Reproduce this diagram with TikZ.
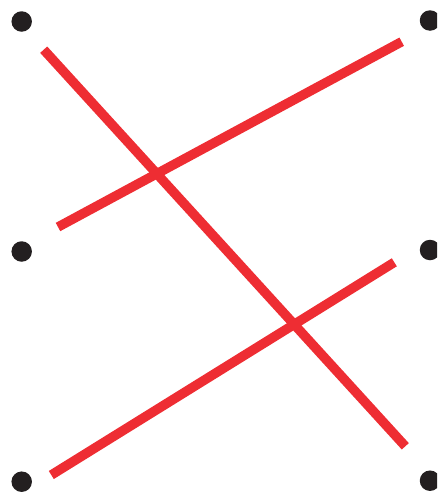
\documentclass[tikz,border=0pt]{standalone}
\definecolor{linered}{HTML}{EE2D33}
\definecolor{dotblack}{HTML}{231F20}
\begin{document}
\begin{tikzpicture}[x=1pt,y=-1pt,
  dot/.style={circle,fill=dotblack,inner sep=0pt,minimum size=20.5pt},
  redline/.style={draw=linered,line width=9.5pt}]
\useasboundingbox (0,0) rectangle (437,498);
\clip (0,0) rectangle (437,498);
\node[dot] (d1) at (21.7,21.5) {};
\node[dot] (d2) at (430,20.5) {};
\node[dot] (d3) at (21.7,251.5) {};
\node[dot] (d4) at (430,250) {};
\node[dot] (d5) at (21.7,481.7) {};
\node[dot] (d6) at (430,480.7) {};
\coordinate (a1) at (43.7,49.7);
\coordinate (a2) at (405.3,446.3);
\coordinate (b1) at (58,227);
\coordinate (b2) at (401.7,41.7);
\coordinate (c1) at (51.3,475);
\coordinate (c2) at (394.3,262.3);
\draw[redline] (a1) -- (a2);
\draw[redline] (b1) -- (b2);
\draw[redline] (c1) -- (c2);
\end{tikzpicture}
\end{document}
